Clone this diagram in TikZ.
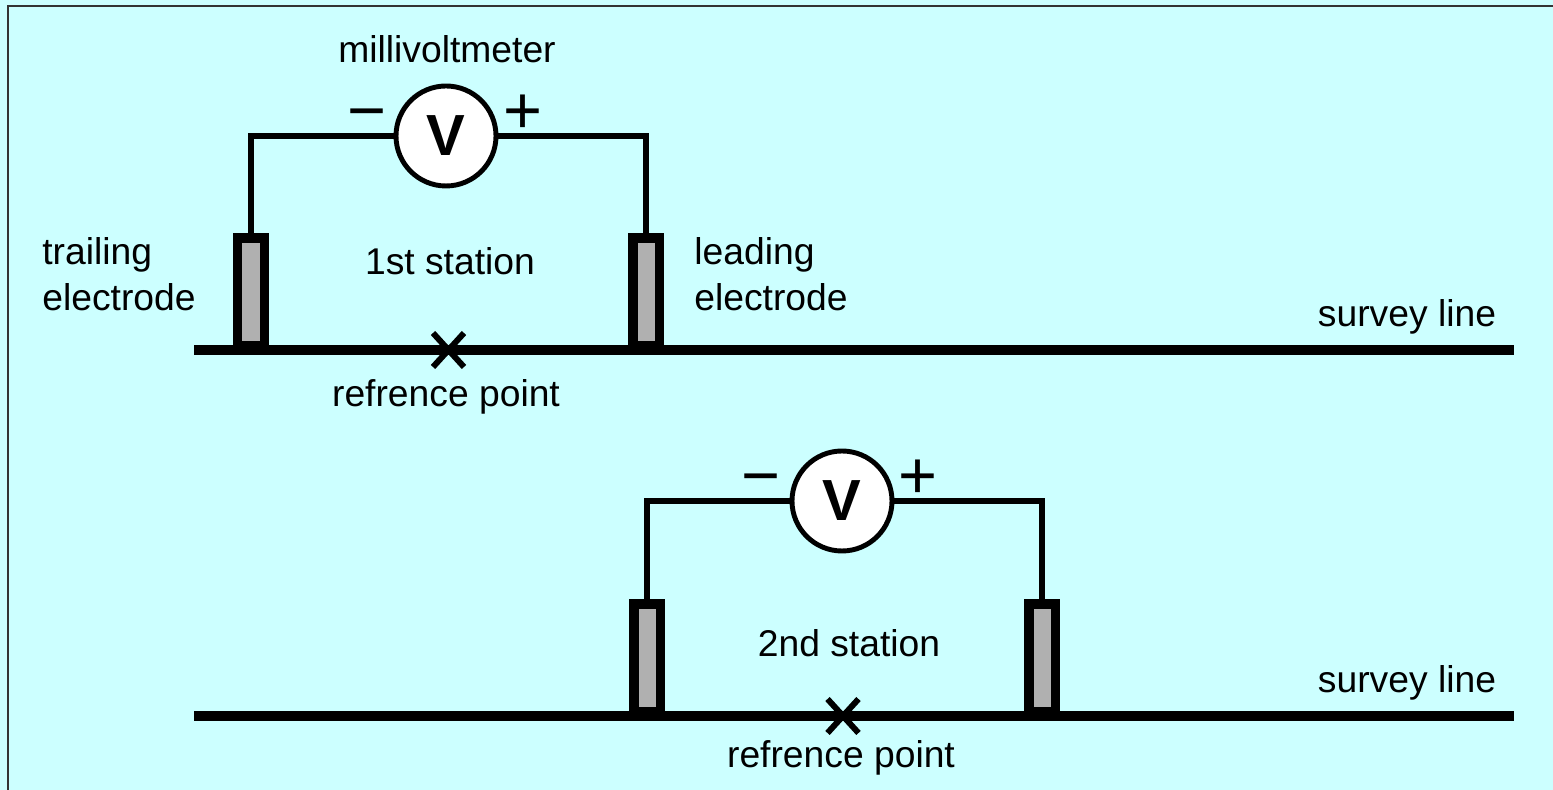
\documentclass[tikz,border=0pt]{standalone}
\usepackage{fontspec}
\setmainfont{Liberation Sans}
\usetikzlibrary{shapes.misc}
\definecolor{paleblue}{RGB}{204,255,255}
\definecolor{electrodegrey}{RGB}{176,176,176}
\tikzset{
    label/.style={font=\fontsize{21.2}{26}\selectfont, inner sep=0pt, align=left},
    meter/.style={draw=black, fill=white, circle, line width=2.8pt, minimum size=2.0cm, inner sep=0pt, font=\fontsize{33}{33}\selectfont\bfseries},
    electrode/.style={draw=black, fill=electrodegrey, rectangle, line width=5.4pt, minimum width=.53cm, minimum height=2.16cm, inner sep=0pt},
    wire/.style={black, line width=3pt},
    survey/.style={black, line width=5.7pt},
    refmark/.style={draw=black, cross out, line width=3.4pt, minimum width=.5cm, minimum height=.56cm, inner sep=0pt},
    sign/.style={font=\fontsize{38}{38}\selectfont, inner sep=0pt}
}
\begin{document}
\begin{tikzpicture}
    % Background and frame
    \useasboundingbox (0,0) rectangle (31.06,15.8);
    \fill[paleblue] (0,0) rectangle (31.06,15.8);
    \draw[black!80, line width=.6pt] (.16,-.2) -- (.16,15.68) -- (31.2,15.68);

    % First station
    \node[meter] (meterA) at (8.92,13.08) {V};
    \node[electrode] (trailA) at (5.02,9.96) {};
    \node[electrode] (leadA) at (12.92,9.96) {};
    \coordinate (startA) at (3.88,8.8);
    \coordinate (endA) at (30.28,8.8);
    \draw[survey] (startA) -- (endA);
    \draw[wire] (meterA.west) -| (trailA.north);
    \draw[wire] (meterA.east) -| (leadA.north);
    \node[refmark] (markA) at (8.97,8.8) {};

    % Labels for the first station
    \node[label] (meterlabel) at (8.94,14.82) {millivoltmeter};
    \node[sign] (minusA) at (7.34,13.38) {−};
    \node[sign] (plusA) at (10.46,13.52) {+};
    \node[label] (stationA) at (9.0,10.58) {1st station};
    \node[label] (refA) at (8.92,7.86) {refrence point};
    \node[label, anchor=west] (traillabel) at (.84,10.31) {trailing\\electrode};
    \node[label, anchor=west] (leadlabel) at (13.88,10.31) {leading\\electrode};
    \node[label] (lineA) at (28.14,9.46) {survey line};

    % Second station
    \node[meter] (meterB) at (16.84,5.78) {V};
    \node[electrode] (trailB) at (12.94,2.64) {};
    \node[electrode] (leadB) at (20.84,2.64) {};
    \coordinate (startB) at (3.88,1.48);
    \coordinate (endB) at (30.28,1.48);
    \draw[survey] (startB) -- (endB);
    \draw[wire] (meterB.west) -| (trailB.north);
    \draw[wire] (meterB.east) -| (leadB.north);
    \node[refmark] (markB) at (16.86,1.48) {};

    % Labels for the second station
    \node[sign] (minusB) at (15.22,6.08) {−};
    \node[sign] (plusB) at (18.36,6.22) {+};
    \node[label] (stationB) at (16.98,2.94) {2nd station};
    \node[label] (refB) at (16.82,.64) {refrence point};
    \node[label] (lineB) at (28.14,2.14) {survey line};
\end{tikzpicture}
\end{document}
